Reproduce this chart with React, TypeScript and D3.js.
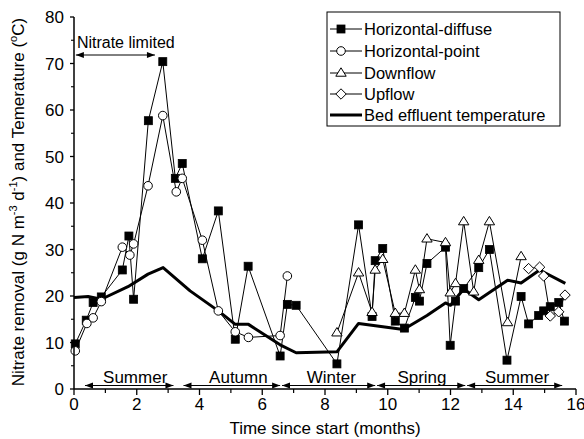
import React from "react";
import * as d3 from "d3";

// Nitrate removal (g N m-3 d-1) by bed configuration, months since start
const diffuseMonth = [0.04, 0.39, 0.61, 0.87, 1.54, 1.75, 1.9, 2.37, 2.83, 3.23, 3.45, 4.09, 4.6, 5.14, 5.55, 6.57, 6.8, 7.08, 8.38, 9.07, 9.5, 9.6, 9.84, 10.24, 10.53, 10.88, 11.01, 11.25, 11.84, 11.99, 12.16, 12.42, 12.9, 13.24, 13.8, 14.25, 14.49, 14.81, 14.97, 15.18, 15.45, 15.63];
const diffuseValue = [9.7, 14.8, 18.6, 19.8, 25.6, 32.9, 19.3, 57.7, 70.4, 45.3, 48.5, 28.0, 38.3, 10.7, 26.4, 7.1, 18.2, 18.0, 5.4, 35.3, 15.6, 27.6, 30.2, 14.6, 13.1, 19.7, 18.9, 27.0, 30.5, 9.4, 18.9, 21.6, 26.1, 30.0, 6.2, 19.9, 14.0, 15.8, 16.8, 17.7, 18.6, 14.6];

const pointMonth = [0.04, 0.41, 0.61, 0.87, 1.54, 1.78, 1.9, 2.36, 2.83, 3.26, 3.45, 4.09, 4.6, 5.14, 5.56, 6.57, 6.8];
const pointValue = [8.2, 14.1, 15.3, 18.8, 30.5, 28.8, 31.2, 43.7, 58.8, 42.4, 45.3, 32.0, 16.8, 12.3, 11.1, 11.5, 24.3];

const downMonth = [8.38, 9.07, 9.5, 9.6, 9.84, 10.24, 10.53, 10.88, 11.01, 11.25, 11.84, 11.99, 12.16, 12.42, 12.74, 12.9, 13.24, 13.82, 14.25];
const downValue = [12.1, 25.0, 16.5, 25.6, 27.9, 16.3, 16.3, 25.6, 21.4, 32.3, 31.5, 20.7, 22.7, 36.0, 20.9, 27.7, 36.0, 14.3, 28.5];

const upMonth = [14.49, 14.84, 14.97, 15.18, 15.45, 15.65];
const upValue = [25.9, 26.2, 24.3, 15.7, 16.6, 20.2];

// Bed effluent temperature (°C)
const tempMonth = [0, 0.45, 0.87, 1.72, 2.36, 2.84, 3.7, 4.6, 5.14, 5.56, 6.57, 7.08, 8.38, 9.07, 10.5, 11.25, 11.84, 12.0, 12.42, 12.9, 13.82, 14.25, 14.84, 15.66];
const tempValue = [19.7, 19.9, 19.3, 22.0, 24.7, 26.1, 21.1, 16.8, 13.9, 13.9, 9.5, 7.8, 8.0, 14.1, 12.8, 15.8, 18.5, 18.0, 21.5, 19.2, 23.4, 22.8, 25.6, 22.7];

// Seasons along the time axis
const seasonNames = ["Summer", "Autumn", "Winter", "Spring", "Summer"];
const seasonStart = [0.35, 3.49, 6.63, 9.66, 12.53];
const seasonEnd = [3.17, 6.57, 9.6, 12.47, 15.56];
const seasonLabelAt = [1.95, 5.24, 8.2, 11.09, 14.12];

// Nitrate-limited period
const limitedStart = 0.06;
const limitedEnd = 2.58;

const xTicks = [0, 2, 4, 6, 8, 10, 12, 14, 16];
const xMinorTicks = [1, 3, 5, 7, 9, 11, 13, 15];
const yTicks = [0, 10, 20, 30, 40, 50, 60, 70, 80];
const yMinorTicks = [5, 15, 25, 35, 45, 55, 65, 75];

const legendLabels = ["Horizontal-diffuse", "Horizontal-point", "Downflow", "Upflow", "Bed effluent temperature"];

const FONT = "'Liberation Sans', Arial, Helvetica, sans-serif";

type Shape = "square" | "circle" | "triangle" | "diamond";

function Marker({ shape, cx, cy }: { shape: Shape; cx: number; cy: number }) {
  if (shape === "square") {
    return <rect x={cx - 4} y={cy - 4} width={8} height={8} fill="#000" stroke="#000" strokeWidth={0.8} />;
  }
  if (shape === "circle") {
    return <circle cx={cx} cy={cy} r={4.3} fill="#fff" stroke="#000" strokeWidth={1} />;
  }
  if (shape === "triangle") {
    const h = 5.2;
    return (
      <path
        d={`M${cx},${cy - h} L${cx + 5.2},${cy + h * 0.62} L${cx - 5.2},${cy + h * 0.62} Z`}
        fill="#fff"
        stroke="#000"
        strokeWidth={1}
      />
    );
  }
  const r = 5.2;
  return (
    <path
      d={`M${cx},${cy - r} L${cx + r},${cy} L${cx},${cy + r} L${cx - r},${cy} Z`}
      fill="#fff"
      stroke="#000"
      strokeWidth={1}
    />
  );
}

export default function App() {
  const width = 584;
  const height = 439;
  const x = d3.scaleLinear().domain([0, 16]).range([74, 576]);
  const y = d3.scaleLinear().domain([0, 80]).range([389, 17]);

  const line = d3
    .line<[number, number]>()
    .x((d) => x(d[0]))
    .y((d) => y(d[1]));

  const zip = (a: number[], b: number[]) => a.map((m, i) => [m, b[i]] as [number, number]);

  const series: { shape: Shape; data: [number, number][] }[] = [
    { shape: "square", data: zip(diffuseMonth, diffuseValue) },
    { shape: "circle", data: zip(pointMonth, pointValue) },
    { shape: "triangle", data: zip(downMonth, downValue) },
    { shape: "diamond", data: zip(upMonth, upValue) },
  ];
  const temp = zip(tempMonth, tempValue);

  const y0 = y(0);
  const arrowY = y0 - 3.5;

  const arrowHead = (px: number, py: number, dir: 1 | -1) =>
    `M${px},${py} L${px - dir * 8},${py - 3} L${px - dir * 8},${py + 3} Z`;

  const legendX = 327;
  const legendY = 12;
  const legendRows = [29, 51, 73, 94, 115];
  const legendShapes: (Shape | null)[] = ["square", "circle", "triangle", "diamond", null];

  return (
    <svg
      width={width}
      height={height}
      style={{ position: "fixed", left: 0, top: 0, background: "#fff" }}
      fontFamily={FONT}
    >
      <rect width={width} height={height} fill="#fff" />

      {/* temperature line */}
      <path d={line(temp) || ""} fill="none" stroke="#000" strokeWidth={3} strokeLinejoin="round" />

      {/* nitrate removal series */}
      {series.map((s, i) => (
        <g key={i}>
          <path d={line(s.data) || ""} fill="none" stroke="#000" strokeWidth={1} />
          {s.data.map((d, j) => (
            <Marker key={j} shape={s.shape} cx={x(d[0])} cy={y(d[1])} />
          ))}
        </g>
      ))}

      {/* axes */}
      <line x1={x(0)} x2={x(16)} y1={y0} y2={y0} stroke="#000" strokeWidth={1.5} />
      <line x1={x(0)} x2={x(0)} y1={y(0)} y2={y(80)} stroke="#000" strokeWidth={1.5} />
      {xTicks.map((t) => (
        <g key={"xt" + t}>
          <line x1={x(t)} x2={x(t)} y1={y0} y2={y0 + 6} stroke="#000" strokeWidth={1.3} />
          <text x={x(t)} y={410} textAnchor="middle" fontSize={17}>
            {t}
          </text>
        </g>
      ))}
      {xMinorTicks.map((t) => (
        <line key={"xm" + t} x1={x(t)} x2={x(t)} y1={y0} y2={y0 + 4} stroke="#000" strokeWidth={1.2} />
      ))}
      {yTicks.map((t) => (
        <g key={"yt" + t}>
          <line x1={x(0) - 4} x2={x(0)} y1={y(t)} y2={y(t)} stroke="#000" strokeWidth={1.3} />
          <text x={64} y={y(t) + 6} textAnchor="end" fontSize={17}>
            {t}
          </text>
        </g>
      ))}
      {yMinorTicks.map((t) => (
        <line key={"ym" + t} x1={x(0) - 3} x2={x(0)} y1={y(t)} y2={y(t)} stroke="#000" strokeWidth={1.1} />
      ))}

      {/* season ranges */}
      {seasonNames.map((name, i) => {
        const a = x(seasonStart[i]);
        const b = x(seasonEnd[i]);
        return (
          <g key={"s" + i}>
            <line x1={a} x2={b} y1={arrowY} y2={arrowY} stroke="#000" strokeWidth={1} />
            <path d={arrowHead(a, arrowY, -1)} fill="#000" />
            <path d={arrowHead(b, arrowY, 1)} fill="#000" />
            <text x={x(seasonLabelAt[i])} y={383} textAnchor="middle" fontSize={17}>
              {name}
            </text>
          </g>
        );
      })}

      {/* nitrate limited period */}
      <line x1={x(limitedStart)} x2={x(limitedEnd)} y1={55} y2={55} stroke="#000" strokeWidth={1} />
      <path d={arrowHead(x(limitedStart), 55, -1)} fill="#000" />
      <path d={arrowHead(x(limitedEnd), 55, 1)} fill="#000" />
      <text x={x(limitedStart) + 1} y={48} fontSize={16}>
        Nitrate limited
      </text>

      {/* legend */}
      <rect x={legendX} y={legendY} width={233} height={114} fill="#fff" stroke="#000" strokeWidth={1} />
      {legendLabels.map((label, i) => {
        const ry = legendRows[i];
        const shape = legendShapes[i];
        return (
          <g key={"lg" + i}>
            <line x1={330} x2={362} y1={ry} y2={ry} stroke="#000" strokeWidth={shape ? 1 : 3} />
            {shape && <Marker shape={shape} cx={341} cy={ry} />}
            <text x={364} y={ry + 6} fontSize={16.5}>
              {label}
            </text>
          </g>
        );
      })}

      {/* axis titles */}
      <text x={325} y={434} textAnchor="middle" fontSize={17}>
        Time since start (months)
      </text>
      <text transform="translate(24,202) rotate(-90)" textAnchor="middle" fontSize={17}>
        Nitrate removal (g N m
        <tspan dy={-7} fontSize={11}>-3</tspan>
        <tspan dy={7}> d</tspan>
        <tspan dy={-7} fontSize={11}>-1</tspan>
        <tspan dy={7}>) and Temerature (</tspan>
        <tspan dy={-7} fontSize={11}>o</tspan>
        <tspan dy={7}>C)</tspan>
      </text>
    </svg>
  );
}
